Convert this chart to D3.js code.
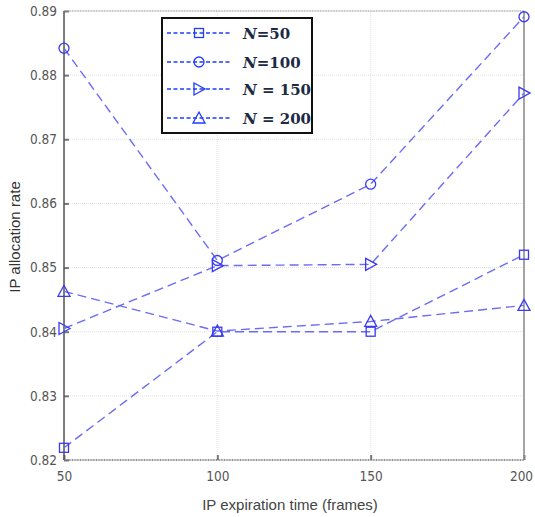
<!DOCTYPE html>
<html>
<head>
<meta charset="utf-8">
<script src="https://cdn.jsdelivr.net/npm/d3@7"></script>
<style>
  body { margin: 0; background: #fff; }
  .tick text { font-family: "Liberation Sans Narrow", "DejaVu Sans Condensed", "Liberation Sans", sans-serif; }
</style>
</head>
<body>
<div id="chart"></div>
<script>
// data
var frames = [50, 100, 150, 200];
var n50  = [0.8219, 0.8400, 0.8400, 0.8520];
var n100 = [0.8842, 0.8511, 0.8630, 0.8891];
var n150 = [0.8405, 0.8503, 0.8505, 0.8772];
var n200 = [0.8463, 0.8401, 0.8416, 0.8441];
var seriesNames = ["50", "100", "150", "200"];
var seriesLabels = ["=50", "=100", " = 150", " = 200"];
var yTicks = [0.82, 0.83, 0.84, 0.85, 0.86, 0.87, 0.88, 0.89];
var xTicks = [50, 100, 150, 200];

var width = 535, height = 517;
var plotLeft = 64, plotRight = 524, plotTop = 11, plotBottom = 460;

var svg = d3.select('#chart').append('svg')
    .attr('width', width)
    .attr('height', height);

var x = d3.scaleLinear().domain([50, 200]).range([plotLeft, plotRight]);
var y = d3.scaleLinear().domain([0.82, 0.89]).range([plotBottom, plotTop]);

// grid
var grid = svg.append('g');
grid.selectAll('line.gy').data(yTicks).enter().append('line')
    .attr('x1', plotLeft).attr('x2', plotRight)
    .attr('y1', function(d) { return y(d); }).attr('y2', function(d) { return y(d); })
    .attr('stroke', '#e2e2e2').attr('stroke-dasharray', '1,1');
grid.selectAll('line.gx').data(xTicks).enter().append('line')
    .attr('y1', plotTop).attr('y2', plotBottom)
    .attr('x1', function(d) { return x(d); }).attr('x2', function(d) { return x(d); })
    .attr('stroke', '#e2e2e2').attr('stroke-dasharray', '1,1');

// axes
var yAxis = d3.axisLeft(y).tickValues(yTicks).tickFormat(d3.format('.2f')).tickSize(-5).tickPadding(7);
var xAxis = d3.axisBottom(x).tickValues(xTicks).tickSize(-5).tickPadding(11);

var gy = svg.append('g').attr('transform', 'translate(' + plotLeft + ',0)').call(yAxis);
var gx = svg.append('g').attr('transform', 'translate(0,' + plotBottom + ')').call(xAxis);
[gy, gx].forEach(function(g) {
    g.select('.domain').remove();
    g.selectAll('.tick line').attr('stroke', '#777').attr('stroke-width', 2);
    g.selectAll('.tick text').attr('fill', '#555').attr('font-size', 13.5);
});
// keep the last x label inside the window
gx.selectAll('.tick text').filter(function(d) { return d == 200; }).attr('dx', -3);

// frame
svg.append('line').attr('x1', plotLeft).attr('x2', plotLeft).attr('y1', plotTop).attr('y2', plotBottom).attr('stroke', '#555').attr('stroke-width', 1.5);
svg.append('line').attr('x1', plotRight).attr('x2', plotRight).attr('y1', plotTop).attr('y2', plotBottom).attr('stroke', '#888').attr('stroke-width', 1.5);
svg.append('line').attr('x1', plotLeft).attr('x2', plotRight).attr('y1', plotBottom).attr('y2', plotBottom).attr('stroke', '#777').attr('stroke-width', 1.5).attr('stroke-dasharray', '1,0.6');
svg.append('line').attr('x1', plotLeft).attr('x2', plotRight).attr('y1', plotTop).attr('y2', plotTop).attr('stroke', '#999').attr('stroke-width', 1.2).attr('stroke-dasharray', '1,0.6');

// axis labels
svg.append('text')
    .attr('x', 290).attr('y', 510)
    .attr('text-anchor', 'middle')
    .attr('font-family', '"Liberation Sans", sans-serif')
    .attr('font-size', 15).attr('fill', '#444')
    .text('IP expiration time (frames)');
svg.append('text')
    .attr('transform', 'translate(20,237) rotate(-90)')
    .attr('text-anchor', 'middle')
    .attr('font-family', '"Liberation Sans", sans-serif')
    .attr('font-size', 15).attr('fill', '#333')
    .text('IP allocation rate');

// markers
function marker(g, type, cx, cy, color) {
    if (type == 0) {
        g.append('rect').attr('x', cx - 4.5).attr('y', cy - 4.5).attr('width', 9).attr('height', 9)
            .attr('fill', 'none').attr('stroke', color).attr('stroke-width', 1.3);
    } else if (type == 1) {
        g.append('circle').attr('cx', cx).attr('cy', cy).attr('r', 5)
            .attr('fill', 'none').attr('stroke', color).attr('stroke-width', 1.3);
    } else if (type == 2) {
        g.append('path').attr('d', 'M' + (cx - 5) + ',' + (cy - 6) + 'L' + (cx + 6) + ',' + cy + 'L' + (cx - 5) + ',' + (cy + 6) + 'Z')
            .attr('fill', 'none').attr('stroke', color).attr('stroke-width', 1.3);
    } else {
        g.append('path').attr('d', 'M' + (cx - 6) + ',' + (cy + 5) + 'L' + cx + ',' + (cy - 6) + 'L' + (cx + 6) + ',' + (cy + 5) + 'Z')
            .attr('fill', 'none').attr('stroke', color).attr('stroke-width', 1.3);
    }
}

var allSeries = [n50, n100, n150, n200];
var line = d3.line()
    .x(function(d, i) { return x(frames[i]); })
    .y(function(d) { return y(d); });

for (var s = 0; s < allSeries.length; s++) {
    var g = svg.append('g');
    g.append('path')
        .attr('d', line(allSeries[s]))
        .attr('fill', 'none')
        .attr('stroke', '#6b6bf5')
        .attr('stroke-width', 1.4)
        .attr('stroke-dasharray', '9,5');
    for (var i = 0; i < frames.length; i++) {
        marker(g, s, x(frames[i]), y(allSeries[s][i]), '#3a3af0');
    }
}

// legend
var leg = svg.append('g');
leg.append('rect').attr('x', 162).attr('y', 18).attr('width', 150).attr('height', 115)
    .attr('fill', '#fff').attr('stroke', '#111').attr('stroke-width', 2);
var legY = [33, 62, 89, 118];
for (var s = 0; s < seriesNames.length; s++) {
    leg.append('line').attr('x1', 167).attr('x2', 232).attr('y1', legY[s]).attr('y2', legY[s])
        .attr('stroke', '#1f3cff').attr('stroke-width', 1.6).attr('stroke-dasharray', '4,2.5');
    var mg = leg.append('g');
    marker(mg, s, 199, legY[s], '#1f3cff');
    var t = leg.append('text').attr('x', 243).attr('y', legY[s] + 6)
        .attr('font-family', '"DejaVu Serif", "Liberation Serif", serif')
        .attr('font-weight', 'bold').attr('font-size', 15).attr('fill', '#1c2a44');
    t.append('tspan').attr('font-style', 'italic').text('N');
    t.append('tspan').text(seriesLabels[s]);
}
</script>
</body>
</html>
